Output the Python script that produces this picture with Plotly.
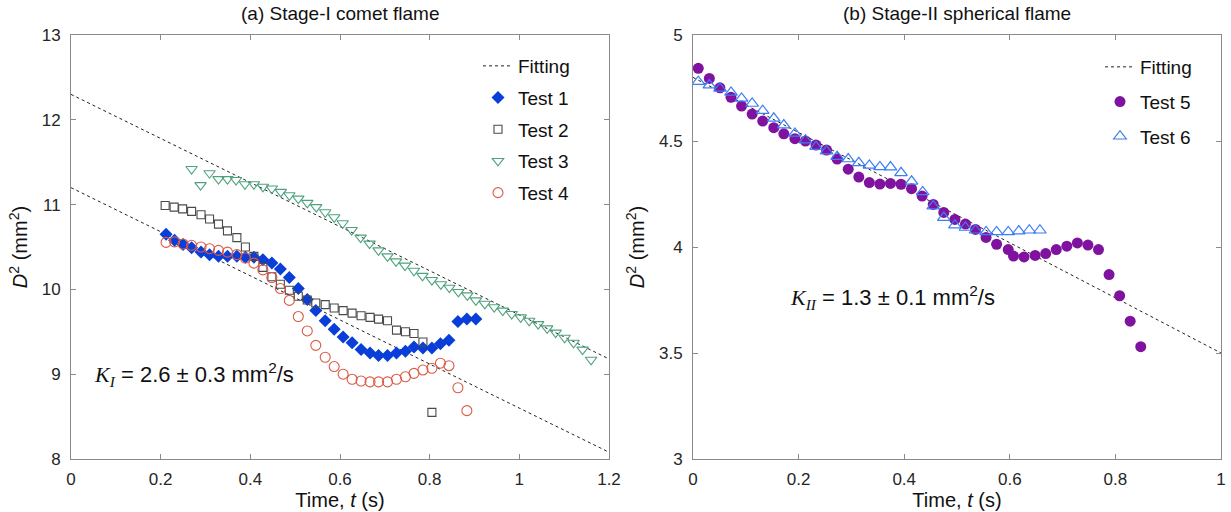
import plotly.graph_objects as go

# ---------------- (a) Stage-I comet flame ----------------
t_test1 = [0.212, 0.231, 0.250, 0.269, 0.290, 0.309, 0.329, 0.349, 0.370, 0.389, 0.408, 0.428,
           0.448, 0.467, 0.487, 0.507, 0.527, 0.546, 0.567, 0.587, 0.607, 0.627, 0.647, 0.667,
           0.686, 0.706, 0.726, 0.746, 0.765, 0.785, 0.805, 0.824, 0.843, 0.863, 0.883, 0.903]
d2_test1 = [10.65, 10.58, 10.53, 10.49, 10.44, 10.41, 10.39, 10.39, 10.39, 10.38, 10.38, 10.35,
            10.31, 10.24, 10.14, 10.01, 9.88, 9.75, 9.63, 9.53, 9.44, 9.37, 9.29, 9.25,
            9.22, 9.22, 9.25, 9.27, 9.32, 9.31, 9.31, 9.36, 9.40, 9.62, 9.65, 9.65]

t_test2 = [0.210, 0.230, 0.249, 0.269, 0.290, 0.309, 0.329, 0.349, 0.370, 0.389, 0.408, 0.428,
           0.448, 0.467, 0.487, 0.507, 0.527, 0.546, 0.567, 0.587, 0.607, 0.627, 0.647, 0.667,
           0.686, 0.706, 0.726, 0.746, 0.765, 0.785, 0.805]
d2_test2 = [10.99, 10.97, 10.95, 10.92, 10.88, 10.83, 10.77, 10.69, 10.61, 10.50, 10.39, 10.26,
            10.15, 10.06, 9.99, 9.92, 9.875, 9.84, 9.82, 9.78, 9.75, 9.72, 9.69, 9.67,
            9.65, 9.63, 9.52, 9.50, 9.48, 9.38, 8.55]

t_test3 = [0.269, 0.289, 0.309, 0.329, 0.349, 0.368, 0.388, 0.408, 0.428, 0.448, 0.468, 0.487,
           0.507, 0.527, 0.547, 0.567, 0.587, 0.606, 0.626, 0.646, 0.666, 0.686, 0.706, 0.725,
           0.745, 0.765, 0.784, 0.805, 0.825, 0.844, 0.864, 0.884, 0.903, 0.923, 0.944, 0.963,
           0.983, 1.003, 1.022, 1.042, 1.062, 1.081, 1.101, 1.121, 1.141, 1.160]
d2_test3 = [11.42, 11.23, 11.37, 11.30, 11.30, 11.29, 11.24, 11.24, 11.21, 11.19, 11.15, 11.11,
            11.07, 11.02, 10.97, 10.91, 10.85, 10.78, 10.70, 10.61, 10.54, 10.46, 10.39, 10.33,
            10.28, 10.22, 10.16, 10.11, 10.06, 10.02, 9.97, 9.93, 9.87, 9.83, 9.79, 9.75,
            9.71, 9.67, 9.63, 9.59, 9.54, 9.49, 9.43, 9.37, 9.29, 9.17]

t_test4 = [0.212, 0.231, 0.250, 0.269, 0.290, 0.309, 0.329, 0.349, 0.370, 0.389, 0.408, 0.428,
           0.448, 0.467, 0.487, 0.507, 0.527, 0.546, 0.567, 0.587, 0.607, 0.627, 0.647, 0.667,
           0.686, 0.706, 0.726, 0.746, 0.765, 0.785, 0.805, 0.824, 0.843, 0.863, 0.883]
d2_test4 = [10.555, 10.56, 10.535, 10.52, 10.50, 10.48, 10.46, 10.44, 10.41, 10.37, 10.31, 10.23,
            10.14, 10.01, 9.87, 9.68, 9.51, 9.34, 9.20, 9.09, 9.00, 8.94, 8.92, 8.91,
            8.91, 8.91, 8.94, 8.97, 9.01, 9.05, 9.07, 9.13, 9.10, 8.84, 8.57]

fitA_t = [0.0, 1.2]
fitA_intercepts = [12.3, 11.2]
fitA_slope = -2.6

# ---------------- (b) Stage-II spherical flame ----------------
t_test5 = [0.010, 0.031, 0.051, 0.072, 0.092, 0.112, 0.132, 0.153, 0.172, 0.193, 0.213, 0.233,
           0.253, 0.273, 0.294, 0.314, 0.334, 0.354, 0.374, 0.394, 0.414, 0.434, 0.455, 0.475,
           0.496, 0.516, 0.535, 0.555, 0.575, 0.597, 0.607, 0.627, 0.648, 0.668, 0.688, 0.708,
           0.728, 0.748, 0.768, 0.788, 0.808, 0.828, 0.848]
d2_test5 = [4.843, 4.795, 4.751, 4.706, 4.665, 4.627, 4.594, 4.563, 4.534, 4.511, 4.500, 4.481,
            4.457, 4.415, 4.367, 4.330, 4.304, 4.297, 4.300, 4.296, 4.275, 4.240, 4.201, 4.163,
            4.130, 4.108, 4.083, 4.045, 4.013, 3.988, 3.957, 3.953, 3.960, 3.969, 3.988, 4.004,
            4.019, 4.009, 3.988, 3.87, 3.77, 3.65, 3.53]

t_test6 = [0.010, 0.031, 0.051, 0.072, 0.092, 0.112, 0.132, 0.153, 0.172, 0.193, 0.213, 0.233,
           0.253, 0.273, 0.294, 0.314, 0.334, 0.354, 0.374, 0.394, 0.414, 0.435, 0.455, 0.475,
           0.496, 0.516, 0.535, 0.555, 0.575, 0.597, 0.617, 0.637, 0.657]
d2_test6 = [4.780, 4.764, 4.748, 4.729, 4.701, 4.677, 4.643, 4.607, 4.575, 4.536, 4.504, 4.473,
            4.452, 4.426, 4.415, 4.397, 4.385, 4.378, 4.377, 4.350, 4.310, 4.260, 4.193, 4.139,
            4.103, 4.092, 4.079, 4.071, 4.071, 4.071, 4.075, 4.079, 4.079]

fitB_t = [0.0, 1.0]
fitB_intercept = 4.8
fitB_slope = -1.3

FONT = "Arial, Liberation Sans, sans-serif"
W, H = 1231, 512

fig = go.Figure()

# fitting lines (a)
fx, fy = [], []
for b in fitA_intercepts:
    fx += fitA_t + [None]
    fy += [b + fitA_slope * t for t in fitA_t] + [None]
fig.add_trace(go.Scatter(x=fx, y=fy, mode="lines", name="Fitting",
                         line=dict(color="#222222", width=1, dash="3px,3px"),
                         xaxis="x", yaxis="y", legend="legend", legendgroup="fa"))
fig.add_trace(go.Scatter(x=t_test1, y=d2_test1, mode="markers", name="Test 1",
                         marker=dict(symbol="diamond", size=10, color="#0A3ED8",
                                     line=dict(width=0)),
                         xaxis="x", yaxis="y", legend="legend", legendgroup="t1"))
fig.add_trace(go.Scatter(x=t_test2, y=d2_test2, mode="markers", name="Test 2",
                         marker=dict(symbol="square-open", size=8, color="#4a4a4a",
                                     line=dict(width=1.1)),
                         xaxis="x", yaxis="y", legend="legend", legendgroup="t2"))
fig.add_trace(go.Scatter(x=t_test3, y=d2_test3, mode="markers", name="Test 3",
                         marker=dict(symbol="triangle-down-open", size=10, color="#4FA27F",
                                     line=dict(width=1.1)),
                         xaxis="x", yaxis="y", legend="legend", legendgroup="t3"))
fig.add_trace(go.Scatter(x=t_test4, y=d2_test4, mode="markers", name="Test 4",
                         marker=dict(symbol="circle-open", size=10, color="#DA5A45",
                                     line=dict(width=1.1)),
                         xaxis="x", yaxis="y", legend="legend", legendgroup="t4"))

# (b)
fig.add_trace(go.Scatter(x=fitB_t, y=[fitB_intercept + fitB_slope * t for t in fitB_t],
                         mode="lines", name="Fitting",
                         line=dict(color="#222222", width=1, dash="3px,3px"),
                         xaxis="x2", yaxis="y2", legend="legend2", legendgroup="fb"))
fig.add_trace(go.Scatter(x=t_test5, y=d2_test5, mode="markers", name="Test 5",
                         marker=dict(symbol="circle", size=11, color="#7F139F",
                                     line=dict(width=0)),
                         xaxis="x2", yaxis="y2", legend="legend2", legendgroup="t5"))
fig.add_trace(go.Scatter(x=t_test6, y=d2_test6, mode="markers", name="Test 6",
                         marker=dict(symbol="triangle-up-open", size=11, color="#3B7DF5",
                                     line=dict(width=1.2)),
                         xaxis="x2", yaxis="y2", legend="legend2", legendgroup="t6"))

axis_common = dict(showline=True, linecolor="#8a8a8a", linewidth=1, mirror="ticks",
                   ticks="inside", ticklen=5, tickcolor="#8a8a8a", showgrid=False,
                   zeroline=False, automargin=False,
                   tickfont=dict(family=FONT, size=17, color="#262626"))

ydom = [1 - 459 / H, 1 - 35 / H]
xtitle = dict(text="Time, <i>t</i> (s)", font=dict(size=20, family=FONT, color="#111111"), standoff=2)
ytitle = dict(text="<i>D</i><sup>2</sup> (mm<sup>2</sup>)", font=dict(size=20, family=FONT, color="#111111"),
              standoff=8)
fig.update_layout(
    width=W, height=H,
    margin=dict(l=0, r=0, t=0, b=0),
    paper_bgcolor="white", plot_bgcolor="white",
    font=dict(family=FONT, color="#111111"),
    xaxis=dict(domain=[71 / W, 609 / W], range=[0, 1.2], dtick=0.2, tick0=0,
               title=xtitle, ticklabelstandoff=5, anchor="y", **axis_common),
    yaxis=dict(domain=ydom, range=[8, 13], dtick=1, tick0=8,
               title=ytitle, ticklabelstandoff=6, anchor="x", **axis_common),
    xaxis2=dict(domain=[693 / W, 1221 / W], range=[0, 1], dtick=0.2, tick0=0,
                title=xtitle, ticklabelstandoff=5, anchor="y2", **axis_common),
    yaxis2=dict(domain=ydom, range=[3, 5], dtick=0.5, tick0=3,
                title=ytitle, ticklabelstandoff=6, anchor="x2", **axis_common),
    legend=dict(x=478 / W, y=1 - 47 / H, xanchor="left", yanchor="top",
                bgcolor="rgba(0,0,0,0)", borderwidth=0, tracegroupgap=4,
                font=dict(family=FONT, size=19, color="#111111")),
    legend2=dict(x=1100 / W, y=1 - 48 / H, xanchor="left", yanchor="top",
                 bgcolor="rgba(0,0,0,0)", borderwidth=0, tracegroupgap=7,
                 font=dict(family=FONT, size=19, color="#111111")),
    annotations=[
        dict(text="(a) Stage-I comet flame", x=340 / W, y=1 - 13 / H, xref="paper", yref="paper",
             xanchor="center", yanchor="middle",
             showarrow=False, font=dict(family=FONT, size=19, color="#111111")),
        dict(text="(b) Stage-II spherical flame", x=957 / W, y=1 - 13 / H, xref="paper", yref="paper",
             xanchor="center", yanchor="middle",
             showarrow=False, font=dict(family=FONT, size=19, color="#111111")),
        dict(text="<span style='font-family:Liberation Serif'><i>K<sub>I</sub></i></span> = 2.6 ± 0.3 mm<sup>2</sup>/s",
             x=0.047, y=9.0, xref="x", yref="y", xanchor="left", yanchor="middle",
             showarrow=False, font=dict(family=FONT, size=22, color="#111111")),
        dict(text="<span style='font-family:Liberation Serif'><i>K<sub>II</sub></i></span> = 1.3 ± 0.1 mm<sup>2</sup>/s",
             x=0.18, y=3.76, xref="x2", yref="y2", xanchor="left", yanchor="middle",
             showarrow=False, font=dict(family=FONT, size=22, color="#111111")),
    ],
)

fig.write_html("out.html", config={"displayModeBar": False},
               post_script="document.body.style.margin='0';")
